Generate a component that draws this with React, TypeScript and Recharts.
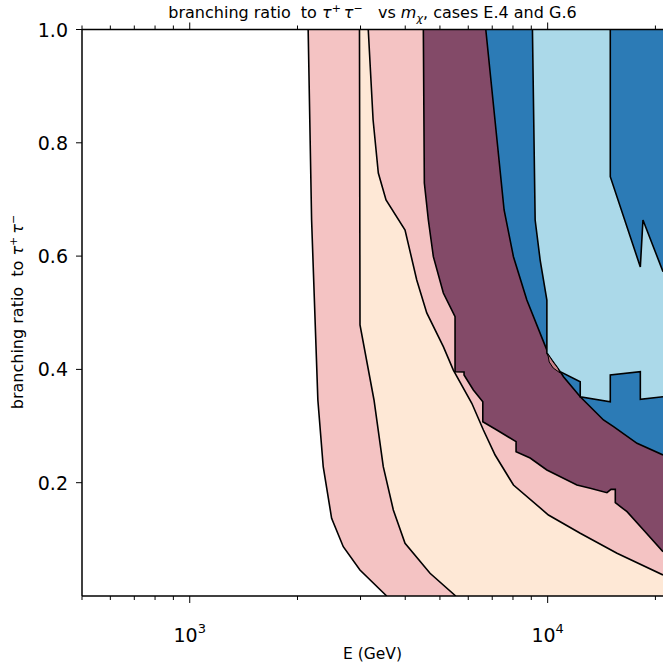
import React from 'react';
import { ComposedChart, Area, XAxis, YAxis } from 'recharts';

// axis ranges and ticks
const xDomain = [500, 21000];
const yDomain = [0, 1];
const xTicks = [500, 600, 700, 800, 900, 1000, 2000, 3000, 4000, 5000, 6000, 7000, 8000, 9000, 10000, 20000];
const xMajorTicks = [1000, 10000];
const yTicks = [0.2, 0.4, 0.6, 0.8, 1.0];

// contour boundaries: E (GeV) of the boundary for a given branching ratio r
const boundaryWhitePink = [
  { r: 1, E: 2142 }, { r: 0.6637, E: 2190 }, { r: 0.346, E: 2280 }, { r: 0.2282, E: 2360 },
  { r: 0.1372, E: 2491 }, { r: 0.087, E: 2685 }, { r: 0.0459, E: 2989 }, { r: 0, E: 3550 },
];
const boundaryPinkPeach = [
  { r: 1, E: 2980 }, { r: 0.4784, E: 2990 }, { r: 0.346, E: 3272 }, { r: 0.2282, E: 3473 },
  { r: 0.1518, E: 3705 }, { r: 0.093, E: 3995 }, { r: 0.0401, E: 4692 }, { r: 0, E: 5536 },
];
const boundaryPeachPink = [
  { r: 1, E: 3153 }, { r: 0.8402, E: 3253 }, { r: 0.7467, E: 3364 }, { r: 0.699, E: 3535 },
  { r: 0.6461, E: 3995 }, { r: 0.5578, E: 4307 }, { r: 0.4996, E: 4594 }, { r: 0.4401, E: 5111 },
  { r: 0.3989, E: 5451 }, { r: 0.3402, E: 6138 }, { r: 0.293, E: 6613 }, { r: 0.2489, E: 7131 },
  { r: 0.1959, E: 8024 }, { r: 0.143, E: 10050 }, { r: 0.1107, E: 12330 }, { r: 0.0754, E: 15620 },
  { r: 0.0371, E: 21000 },
];
const boundaryPinkPurple = [
  { r: 1, E: 4494 }, { r: 0.729, E: 4523 }, { r: 0.6637, E: 4641 }, { r: 0.599, E: 4793 },
  { r: 0.5349, E: 5111 }, { r: 0.493, E: 5511 }, { r: 0.3959, E: 5511 }, { r: 0.3954, E: 5839 },
  { r: 0.3901, E: 5839 }, { r: 0.3636, E: 6200 }, { r: 0.343, E: 6588 }, { r: 0.3077, E: 6588 },
  { r: 0.293, E: 7210 }, { r: 0.2724, E: 8160 }, { r: 0.2547, E: 8160 }, { r: 0.2436, E: 8933 },
  { r: 0.2224, E: 9949 }, { r: 0.1959, E: 12070 }, { r: 0.1901, E: 13150 }, { r: 0.1823, E: 14640 },
  { r: 0.1883, E: 15030 }, { r: 0.1883, E: 15450 }, { r: 0.1647, E: 15450 }, { r: 0.1488, E: 16660 },
  { r: 0.1165, E: 18530 }, { r: 0.0782, E: 21000 },
];
const boundaryPurpleBlue = [
  { r: 1, E: 6716 }, { r: 0.6814, E: 7556 }, { r: 0.5989, E: 8024 }, { r: 0.5225, E: 8746 },
  { r: 0.4342, E: 9949 }, { r: 0.3871, E: 11070 }, { r: 0.3518, E: 12330 }, { r: 0.3107, E: 14320 },
  { r: 0.2989, E: 15280 }, { r: 0.2695, E: 17770 }, { r: 0.2489, E: 21000 },
];
const boundaryLightBlue = [
  { r: 1, E: 9067 }, { r: 0.6637, E: 9226 }, { r: 0.5931, E: 9528 }, { r: 0.5225, E: 9949 },
  { r: 0.4284, E: 9949 }, { r: 0.3959, E: 10840 }, { r: 0.3783, E: 12330 }, { r: 0.3518, E: 12330 },
  { r: 0.343, E: 14960 }, { r: 0.3901, E: 14960 }, { r: 0.3959, E: 18150 }, { r: 0.3472, E: 18150 },
  { r: 0.3518, E: 21000 },
];
const boundaryBlueRight = [
  { r: 1, E: 14960 }, { r: 0.7402, E: 14960 }, { r: 0.5808, E: 18150 }, { r: 0.6637, E: 18460 },
  { r: 0.5725, E: 21000 },
];
const lensRange = [
  { r: 0.4281, E: [10000, 10000] }, { r: 0.4131, E: [10100, 10360] },
  { r: 0.4025, E: [10360, 10670] }, { r: 0.3936, E: [10840, 10840] },
];

const PINK = '#f4c3c3';
const PEACH = '#fee8d6';
const PURPLE = '#834a68';
const BLUE = '#2c7bb6';
const LIGHTBLUE = '#abd9e9';
const LENS = '#c98189';

const FONT = 'DejaVu Sans';

const supMap: Record<number, string> = { 1000: '3', 10000: '4' };

const BottomTick = (props: any) => {
  const { x, y, payload } = props;
  const v = payload.value;
  const major = xMajorTicks.includes(v);
  return (
    <g>
      <line x1={x} x2={x} y1={y} y2={y + (major ? 7 : 4)} stroke="#000" strokeWidth={1} />
      {major && (
        <text x={x} y={y + 46} textAnchor="middle" fontFamily={FONT} fontSize={19} fill="#000">
          10<tspan dy={-9} fontSize={13}>{supMap[v]}</tspan>
        </text>
      )}
    </g>
  );
};

const TopTick = (props: any) => {
  const { x, y, payload } = props;
  const major = xMajorTicks.includes(payload.value);
  return <line x1={x} x2={x} y1={y} y2={y - (major ? 7 : 4)} stroke="#000" strokeWidth={1} />;
};

const LeftTick = (props: any) => {
  const { x, y, payload } = props;
  return (
    <g>
      <line x1={x - 6} x2={x} y1={y} y2={y} stroke="#000" strokeWidth={1} />
      <text x={x - 14} y={y + 7} textAnchor="end" fontFamily={FONT} fontSize={19} fill="#000">
        {payload.value.toFixed(1)}
      </text>
    </g>
  );
};

const areaCommon = {
  xAxisId: 'b',
  yAxisId: 'l',
  dataKey: 'E',
  type: 'linear' as const,
  baseValue: 'dataMax' as const,
  stroke: '#000',
  strokeWidth: 1.6,
  fillOpacity: 1,
  isAnimationActive: false,
  dot: false,
  activeDot: false,
};

const pre = { whiteSpace: 'pre' as const };

export default function App() {
  return (
    <div style={{ position: 'absolute', left: 0, top: 0, width: 663, height: 665, background: '#fff' }}>
      <ComposedChart
        layout="vertical"
        width={663}
        height={665}
        margin={{ top: 0, right: 0, bottom: 0, left: 0 }}
      >
        <XAxis
          xAxisId="b"
          type="number"
          scale="log"
          domain={xDomain}
          allowDataOverflow
          ticks={xTicks}
          interval={0}
          orientation="bottom"
          height={69}
          tickSize={0}
          tickMargin={0}
          tick={<BottomTick />}
          axisLine={{ stroke: '#000', strokeWidth: 1.5 }}
        />
        <XAxis
          xAxisId="t"
          type="number"
          scale="log"
          domain={xDomain}
          allowDataOverflow
          ticks={xTicks}
          interval={0}
          orientation="top"
          height={29.5}
          tickSize={0}
          tickMargin={0}
          tick={<TopTick />}
          axisLine={{ stroke: '#000', strokeWidth: 1.5 }}
        />
        <YAxis
          yAxisId="l"
          type="number"
          dataKey="r"
          domain={yDomain}
          reversed
          allowDataOverflow
          ticks={yTicks}
          interval={0}
          width={82}
          tickSize={0}
          tickMargin={0}
          tick={<LeftTick />}
          axisLine={{ stroke: '#000', strokeWidth: 1.5 }}
        />
        <Area {...areaCommon} data={boundaryWhitePink} fill={PINK} />
        <Area {...areaCommon} data={boundaryPinkPeach} fill={PEACH} />
        <Area {...areaCommon} data={boundaryPeachPink} fill={PINK} />
        <Area {...areaCommon} data={boundaryPinkPurple} fill={PURPLE} />
        <Area {...areaCommon} data={boundaryPurpleBlue} fill={BLUE} />
        <Area {...areaCommon} data={boundaryLightBlue} fill={LIGHTBLUE} />
        <Area {...areaCommon} data={boundaryBlueRight} fill={BLUE} />
        <Area {...areaCommon} data={lensRange} fill={LENS} strokeWidth={1} />
      </ComposedChart>
      <svg width={663} height={665} style={{ position: 'absolute', left: 0, top: 0, pointerEvents: 'none' }}>
        <text x={372.5} y={18} textAnchor="middle" fontFamily={FONT} fontSize={16} fill="#000" style={pre}>
          {'branching ratio  to '}<tspan fontStyle="italic">τ</tspan>
          <tspan dy={-6} fontSize={11}>+</tspan>
          <tspan dy={6} dx={3} fontStyle="italic">τ</tspan>
          <tspan dy={-6} fontSize={11}>−</tspan>
          <tspan dy={6}>{'   vs '}</tspan>
          <tspan fontStyle="italic">m</tspan>
          <tspan dy={4} fontSize={11} fontStyle="italic">χ</tspan>
          <tspan dy={-4}>{', cases E.4 and G.6'}</tspan>
        </text>
        <text x={372.5} y={659} textAnchor="middle" fontFamily={FONT} fontSize={15.5} fill="#000">
          E (GeV)
        </text>
        <text
          transform="translate(23,312) rotate(-90)"
          textAnchor="middle"
          fontFamily={FONT}
          fontSize={16}
          fill="#000"
          style={pre}
        >
          {'branching ratio  to '}<tspan fontStyle="italic">τ</tspan>
          <tspan dy={-6} fontSize={11}>+</tspan>
          <tspan dy={6} dx={3} fontStyle="italic">τ</tspan>
          <tspan dy={-6} fontSize={11}>−</tspan>
        </text>
      </svg>
    </div>
  );
}
